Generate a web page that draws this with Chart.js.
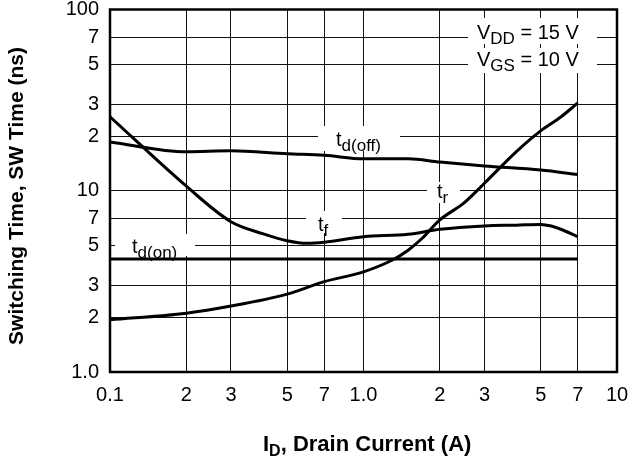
<!DOCTYPE html>
<html lang="en">
<head>
    <meta charset="UTF-8">
    <title>Switching Time vs Drain Current</title>
    <script src="https://cdn.jsdelivr.net/npm/chart.js"></script>
    <style>
        body { margin: 0; background: #fff; }
        #wrap { width: 629px; height: 461px; position: relative; }
    </style>
</head>
<body>
    <div id="wrap"><canvas id="swChart"></canvas></div>

    <script>
        // tick positions and the labels printed at them (log-log graph paper)
        const xTicks = [0.1, 0.2, 0.3, 0.5, 0.7, 1, 2, 3, 5, 7, 10];
        const xTickLabels = ['0.1', '2', '3', '5', '7', '1.0', '2', '3', '5', '7', '10'];
        const yTicks = [1, 2, 3, 5, 7, 10, 20, 30, 50, 70, 100];
        const yTickLabels = ['1.0', '2', '3', '5', '7', '10', '2', '3', '5', '7', '100'];

        // curves: I_D (A) -> time (ns)
        const tdonX = [0.1, 7];
        const tdonY = [4.2, 4.2];

        const trX = [0.1, 0.2, 0.3, 0.5, 0.7, 1.0, 1.3, 1.5, 1.7, 2.0, 2.5, 3, 4, 5, 6, 7];
        const trY = [1.94, 2.11, 2.31, 2.69, 3.15, 3.57, 4.15, 4.7, 5.45, 6.9, 8.6, 11.0, 16.4, 21.4, 25.5, 30.5];

        const tdoffX = [0.1, 0.2, 0.3, 0.5, 0.7, 1.0, 1.5, 2, 3, 5, 7];
        const tdoffY = [18.6, 16.4, 16.6, 16.0, 15.7, 15.0, 15.0, 14.4, 13.7, 13.0, 12.3];

        const tfX = [0.1, 0.2, 0.3, 0.4, 0.5, 0.6, 0.7, 1.0, 1.5, 2, 3, 4, 5, 5.5, 6, 7];
        const tfY = [25.6, 10.6, 6.75, 5.8, 5.3, 5.13, 5.2, 5.58, 5.75, 6.13, 6.4, 6.46, 6.52, 6.39, 6.13, 5.58];

        const FONT = '"Liberation Sans", Arial, Helvetica, sans-serif';
        Chart.defaults.font.family = FONT;
        Chart.defaults.color = '#000';

        function pts(xs, ys) {
            return xs.map((x, i) => ({ x: x, y: ys[i] }));
        }

        // text with subscripts: parts = [[text, isSub], ...]
        function drawParts(ctx, parts, x, y, size, subSize, bold) {
            const w = bold ? 'bold ' : '';
            ctx.textAlign = 'left';
            ctx.textBaseline = 'alphabetic';
            parts.forEach(p => {
                const sub = p[1];
                ctx.font = w + (sub ? subSize : size) + 'px ' + FONT;
                ctx.fillText(p[0], x, sub ? y + 5 : y);
                x += ctx.measureText(p[0]).width;
            });
        }

        // white boxes break the grid behind the curve labels, like the datasheet
        const curveLabels = [
            { box: [318, 126, 400, 151], parts: [['t', 0], ['d(off)', 1]], x: 336, y: 146 },
            { box: [427, 182, 460, 203], parts: [['t', 0], ['r', 1]], x: 437, y: 198 },
            { box: [306, 211, 342, 233], parts: [['t', 0], ['f', 1]], x: 318, y: 231 },
            { box: [115, 234, 195, 256], parts: [['t', 0], ['d(on)', 1]], x: 132, y: 253 },
            { box: [468, 18, 597, 44], parts: [['V', 0], ['DD', 1], [' = 15 V', 0]], x: 477, y: 39 },
            { box: [468, 48, 597, 73], parts: [['V', 0], ['GS', 1], [' = 10 V', 0]], x: 477, y: 66 }
        ];

        const paperPlugin = {
            id: 'paper',
            beforeDatasetsDraw(chart) {
                const ctx = chart.ctx;
                const a = chart.chartArea;
                ctx.save();
                ctx.fillStyle = '#fff';
                curveLabels.forEach(l => {
                    const b = l.box;
                    ctx.fillRect(b[0], b[1], b[2] - b[0], b[3] - b[1]);
                });
                ctx.fillStyle = '#000';
                curveLabels.forEach(l => drawParts(ctx, l.parts, l.x, l.y, 20, 17, false));
                ctx.strokeStyle = '#000';
                ctx.lineWidth = 2.5;
                ctx.strokeRect(a.left, a.top, a.right - a.left, a.bottom - a.top);
                ctx.restore();
            },
            afterDraw(chart) {
                const ctx = chart.ctx;
                ctx.save();
                ctx.fillStyle = '#000';
                // y axis title
                ctx.translate(17, 196);
                ctx.rotate(-Math.PI / 2);
                ctx.font = 'bold 21px ' + FONT;
                ctx.textAlign = 'center';
                ctx.textBaseline = 'middle';
                ctx.fillText('Switching Time, SW Time (ns)', 0, 0);
                ctx.restore();
                ctx.save();
                ctx.fillStyle = '#000';
                drawParts(ctx, [['I', 0], ['D', 1], [', Drain Current (A)', 0]], 263, 451, 22, 16, true);
                ctx.restore();
            }
        };

        const lineStyle = {
            borderColor: '#000',
            borderWidth: 3,
            pointRadius: 0,
            fill: false,
            cubicInterpolationMode: 'monotone'
        };

        new Chart(document.getElementById('swChart'), {
            type: 'line',
            data: {
                datasets: [
                    Object.assign({ label: 'td(on)', data: pts(tdonX, tdonY) }, lineStyle),
                    Object.assign({ label: 'tr', data: pts(trX, trY) }, lineStyle),
                    Object.assign({ label: 'td(off)', data: pts(tdoffX, tdoffY) }, lineStyle),
                    Object.assign({ label: 'tf', data: pts(tfX, tfY) }, lineStyle)
                ]
            },
            options: {
                responsive: true,
                maintainAspectRatio: false,
                animation: false,
                layout: { padding: { top: 9.5, right: 12, left: 0, bottom: 0 } },
                plugins: {
                    legend: { display: false },
                    tooltip: { enabled: false }
                },
                scales: {
                    x: {
                        type: 'logarithmic',
                        min: 0.1,
                        max: 10,
                        afterBuildTicks: s => { s.ticks = xTicks.map(v => ({ value: v })); },
                        afterFit: s => {
                            s.height = 89;
                            s.paddingLeft = 0;
                            s.paddingRight = 0;
                        },
                        grid: { color: '#111', lineWidth: 1, drawTicks: false },
                        border: { display: false },
                        ticks: {
                            autoSkip: false,
                            maxRotation: 0,
                            padding: 11,
                            font: { size: 20 },
                            callback: (v, i) => xTickLabels[i]
                        }
                    },
                    y: {
                        type: 'logarithmic',
                        min: 1,
                        max: 100,
                        afterBuildTicks: s => { s.ticks = yTicks.map(v => ({ value: v })); },
                        afterFit: s => {
                            s.width = 110;
                            s.paddingTop = 0;
                            s.paddingBottom = 0;
                        },
                        grid: { color: '#111', lineWidth: 1, drawTicks: false },
                        border: { display: false },
                        ticks: {
                            autoSkip: false,
                            padding: 11,
                            font: { size: 20 },
                            callback: (v, i) => yTickLabels[i]
                        }
                    }
                }
            },
            plugins: [paperPlugin]
        });
    </script>
</body>
</html>
